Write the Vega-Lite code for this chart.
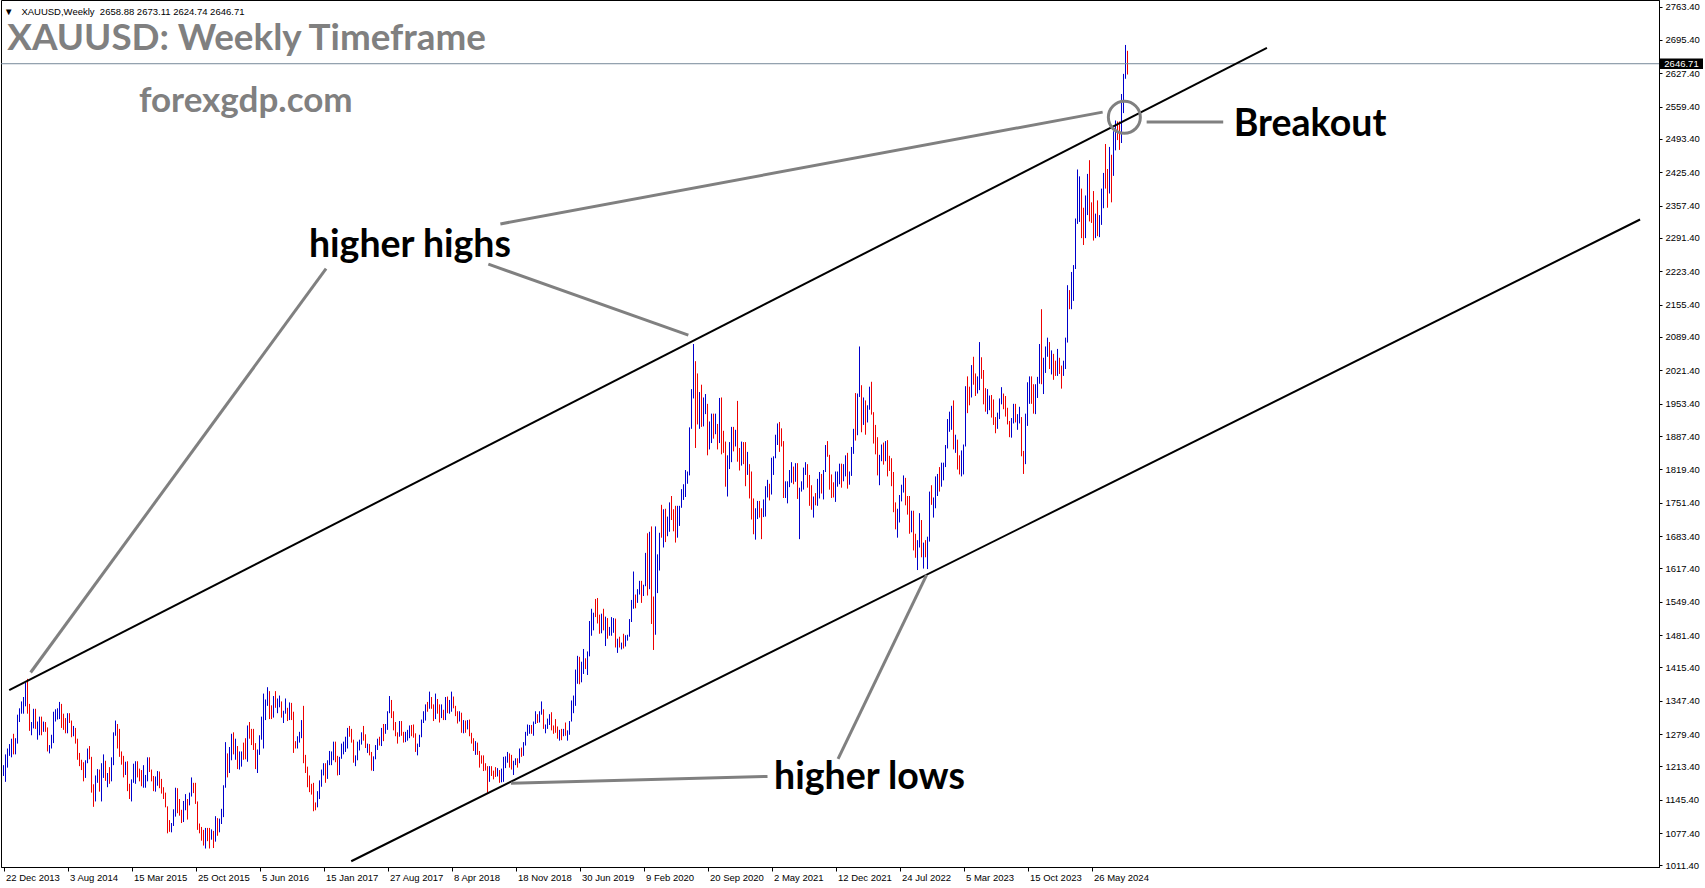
{
"$schema":"https://vega.github.io/schema/vega-lite/v6.json",
"width":1658,"height":867,"autosize":"none",
"padding":{"left":1,"top":0,"right":46,"bottom":21},
"background":"#ffffff",
"config":{"view":{"stroke":"#000000","strokeWidth":1},"axis":{"labelOverlap":false,"labelFlush":false,"labelBound":false,"grid":false,"title":null,"labelFont":"Liberation Sans","labelFontSize":9.5,"labelColor":"#000000","tickColor":"#000000","domainColor":"#000000"}},
"layer":[
{"data":{"values":[
{"d":"2013-12-22","o":1197,"h":1216,"l":1194,"c":1213},
{"d":"2013-12-29","o":1213,"h":1238,"l":1182,"c":1237},
{"d":"2014-01-05","o":1237,"h":1250,"l":1211,"c":1247},
{"d":"2014-01-12","o":1247,"h":1259,"l":1235,"c":1252},
{"d":"2014-01-19","o":1252,"h":1270,"l":1232,"c":1264},
{"d":"2014-01-26","o":1264,"h":1280,"l":1238,"c":1240},
{"d":"2014-02-02","o":1240,"h":1271,"l":1238,"c":1262},
{"d":"2014-02-09","o":1262,"h":1319,"l":1260,"c":1318},
{"d":"2014-02-16","o":1318,"h":1332,"l":1304,"c":1323},
{"d":"2014-02-23","o":1323,"h":1346,"l":1321,"c":1327},
{"d":"2014-03-02","o":1327,"h":1355,"l":1321,"c":1339},
{"d":"2014-03-09","o":1339,"h":1384,"l":1336,"c":1382},
{"d":"2014-03-16","o":1382,"h":1392,"l":1321,"c":1331},
{"d":"2014-03-23","o":1331,"h":1341,"l":1286,"c":1294},
{"d":"2014-03-30","o":1294,"h":1304,"l":1277,"c":1303},
{"d":"2014-04-06","o":1303,"h":1331,"l":1291,"c":1318},
{"d":"2014-04-13","o":1318,"h":1331,"l":1290,"c":1294},
{"d":"2014-04-20","o":1294,"h":1305,"l":1268,"c":1300},
{"d":"2014-04-27","o":1300,"h":1315,"l":1277,"c":1302},
{"d":"2014-05-04","o":1302,"h":1315,"l":1277,"c":1290},
{"d":"2014-05-11","o":1290,"h":1305,"l":1284,"c":1293},
{"d":"2014-05-18","o":1293,"h":1304,"l":1284,"c":1292},
{"d":"2014-05-25","o":1292,"h":1293,"l":1244,"c":1245},
{"d":"2014-06-01","o":1245,"h":1257,"l":1240,"c":1252},
{"d":"2014-06-08","o":1252,"h":1278,"l":1250,"c":1275},
{"d":"2014-06-15","o":1275,"h":1325,"l":1261,"c":1316},
{"d":"2014-06-22","o":1316,"h":1330,"l":1305,"c":1317},
{"d":"2014-06-29","o":1317,"h":1332,"l":1309,"c":1320},
{"d":"2014-07-06","o":1320,"h":1345,"l":1310,"c":1337},
{"d":"2014-07-13","o":1337,"h":1341,"l":1292,"c":1310},
{"d":"2014-07-20","o":1310,"h":1321,"l":1288,"c":1303},
{"d":"2014-07-27","o":1303,"h":1312,"l":1281,"c":1294},
{"d":"2014-08-03","o":1294,"h":1322,"l":1281,"c":1310},
{"d":"2014-08-10","o":1310,"h":1322,"l":1302,"c":1306},
{"d":"2014-08-17","o":1306,"h":1307,"l":1273,"c":1280},
{"d":"2014-08-24","o":1280,"h":1296,"l":1275,"c":1287},
{"d":"2014-08-31","o":1287,"h":1292,"l":1260,"c":1267},
{"d":"2014-09-07","o":1267,"h":1270,"l":1227,"c":1230},
{"d":"2014-09-14","o":1230,"h":1241,"l":1214,"c":1216},
{"d":"2014-09-21","o":1216,"h":1227,"l":1206,"c":1215},
{"d":"2014-09-28","o":1215,"h":1222,"l":1183,"c":1192},
{"d":"2014-10-05","o":1192,"h":1226,"l":1190,"c":1222},
{"d":"2014-10-12","o":1222,"h":1250,"l":1220,"c":1238},
{"d":"2014-10-19","o":1238,"h":1255,"l":1228,"c":1231},
{"d":"2014-10-26","o":1231,"h":1233,"l":1160,"c":1171},
{"d":"2014-11-02","o":1171,"h":1177,"l":1131,"c":1168},
{"d":"2014-11-09","o":1168,"h":1195,"l":1142,"c":1186},
{"d":"2014-11-16","o":1186,"h":1208,"l":1180,"c":1201},
{"d":"2014-11-23","o":1201,"h":1207,"l":1162,"c":1175},
{"d":"2014-11-30","o":1175,"h":1220,"l":1142,"c":1191},
{"d":"2014-12-07","o":1191,"h":1238,"l":1190,"c":1222},
{"d":"2014-12-14","o":1222,"h":1225,"l":1184,"c":1195},
{"d":"2014-12-21","o":1195,"h":1200,"l":1171,"c":1196},
{"d":"2014-12-28","o":1196,"h":1212,"l":1178,"c":1188},
{"d":"2015-01-04","o":1188,"h":1232,"l":1183,"c":1216},
{"d":"2015-01-11","o":1216,"h":1283,"l":1216,"c":1277},
{"d":"2015-01-18","o":1277,"h":1307,"l":1276,"c":1293},
{"d":"2015-01-25","o":1293,"h":1300,"l":1250,"c":1279},
{"d":"2015-02-01","o":1279,"h":1290,"l":1233,"c":1234},
{"d":"2015-02-08","o":1234,"h":1244,"l":1217,"c":1228},
{"d":"2015-02-15","o":1228,"h":1235,"l":1191,"c":1204},
{"d":"2015-02-22","o":1204,"h":1223,"l":1196,"c":1213},
{"d":"2015-03-01","o":1213,"h":1224,"l":1163,"c":1167},
{"d":"2015-03-08","o":1167,"h":1178,"l":1147,"c":1152},
{"d":"2015-03-15","o":1152,"h":1187,"l":1142,"c":1184},
{"d":"2015-03-22","o":1184,"h":1219,"l":1180,"c":1199},
{"d":"2015-03-29","o":1199,"h":1224,"l":1178,"c":1219},
{"d":"2015-04-05","o":1219,"h":1224,"l":1191,"c":1205},
{"d":"2015-04-12","o":1205,"h":1209,"l":1183,"c":1204},
{"d":"2015-04-19","o":1204,"h":1206,"l":1173,"c":1178},
{"d":"2015-04-26","o":1178,"h":1216,"l":1170,"c":1179},
{"d":"2015-05-03","o":1179,"h":1196,"l":1170,"c":1189},
{"d":"2015-05-10","o":1189,"h":1232,"l":1183,"c":1225},
{"d":"2015-05-17","o":1225,"h":1232,"l":1202,"c":1205},
{"d":"2015-05-24","o":1205,"h":1207,"l":1183,"c":1189},
{"d":"2015-05-31","o":1189,"h":1194,"l":1163,"c":1168},
{"d":"2015-06-07","o":1168,"h":1193,"l":1162,"c":1180},
{"d":"2015-06-14","o":1180,"h":1204,"l":1174,"c":1201},
{"d":"2015-06-21","o":1201,"h":1203,"l":1169,"c":1173},
{"d":"2015-06-28","o":1173,"h":1188,"l":1158,"c":1168},
{"d":"2015-07-05","o":1168,"h":1171,"l":1147,"c":1157},
{"d":"2015-07-12","o":1157,"h":1160,"l":1130,"c":1131},
{"d":"2015-07-19","o":1131,"h":1132,"l":1077,"c":1098},
{"d":"2015-07-26","o":1098,"h":1104,"l":1080,"c":1094},
{"d":"2015-08-02","o":1094,"h":1098,"l":1079,"c":1095},
{"d":"2015-08-09","o":1095,"h":1126,"l":1092,"c":1113},
{"d":"2015-08-16","o":1113,"h":1170,"l":1111,"c":1160},
{"d":"2015-08-23","o":1160,"h":1169,"l":1118,"c":1134},
{"d":"2015-08-30","o":1134,"h":1147,"l":1113,"c":1121},
{"d":"2015-09-06","o":1121,"h":1125,"l":1098,"c":1103},
{"d":"2015-09-13","o":1103,"h":1143,"l":1100,"c":1137},
{"d":"2015-09-20","o":1137,"h":1157,"l":1124,"c":1145},
{"d":"2015-09-27","o":1145,"h":1147,"l":1105,"c":1137},
{"d":"2015-10-04","o":1137,"h":1160,"l":1134,"c":1156},
{"d":"2015-10-11","o":1156,"h":1191,"l":1152,"c":1177},
{"d":"2015-10-18","o":1177,"h":1180,"l":1159,"c":1163},
{"d":"2015-10-25","o":1163,"h":1180,"l":1137,"c":1141},
{"d":"2015-11-01","o":1141,"h":1142,"l":1084,"c":1088},
{"d":"2015-11-08","o":1088,"h":1097,"l":1077,"c":1081},
{"d":"2015-11-15","o":1081,"h":1090,"l":1062,"c":1076},
{"d":"2015-11-22","o":1076,"h":1084,"l":1052,"c":1057},
{"d":"2015-11-29","o":1057,"h":1088,"l":1046,"c":1085},
{"d":"2015-12-06","o":1085,"h":1088,"l":1061,"c":1075},
{"d":"2015-12-13","o":1075,"h":1088,"l":1046,"c":1066},
{"d":"2015-12-20","o":1066,"h":1085,"l":1064,"c":1076},
{"d":"2015-12-27","o":1076,"h":1082,"l":1047,"c":1061},
{"d":"2016-01-03","o":1061,"h":1112,"l":1060,"c":1098},
{"d":"2016-01-10","o":1098,"h":1108,"l":1072,"c":1089},
{"d":"2016-01-17","o":1089,"h":1107,"l":1079,"c":1097},
{"d":"2016-01-24","o":1097,"h":1127,"l":1096,"c":1117},
{"d":"2016-01-31","o":1117,"h":1175,"l":1110,"c":1173},
{"d":"2016-02-07","o":1173,"h":1263,"l":1170,"c":1239},
{"d":"2016-02-14","o":1239,"h":1240,"l":1191,"c":1227},
{"d":"2016-02-21","o":1227,"h":1253,"l":1200,"c":1234},
{"d":"2016-02-28","o":1234,"h":1280,"l":1226,"c":1270},
{"d":"2016-03-06","o":1270,"h":1283,"l":1238,"c":1250},
{"d":"2016-03-13","o":1250,"h":1270,"l":1227,"c":1253},
{"d":"2016-03-20","o":1253,"h":1255,"l":1208,"c":1216},
{"d":"2016-03-27","o":1216,"h":1244,"l":1207,"c":1221},
{"d":"2016-04-03","o":1221,"h":1244,"l":1213,"c":1241},
{"d":"2016-04-10","o":1241,"h":1262,"l":1227,"c":1234},
{"d":"2016-04-17","o":1234,"h":1271,"l":1228,"c":1230},
{"d":"2016-04-24","o":1230,"h":1297,"l":1223,"c":1291},
{"d":"2016-05-01","o":1291,"h":1304,"l":1270,"c":1290},
{"d":"2016-05-08","o":1290,"h":1290,"l":1257,"c":1273},
{"d":"2016-05-15","o":1273,"h":1290,"l":1247,"c":1253},
{"d":"2016-05-22","o":1253,"h":1261,"l":1208,"c":1213},
{"d":"2016-05-29","o":1213,"h":1248,"l":1200,"c":1243},
{"d":"2016-06-05","o":1243,"h":1277,"l":1237,"c":1274},
{"d":"2016-06-12","o":1274,"h":1315,"l":1268,"c":1298},
{"d":"2016-06-19","o":1298,"h":1362,"l":1250,"c":1322},
{"d":"2016-06-26","o":1322,"h":1350,"l":1308,"c":1340},
{"d":"2016-07-03","o":1340,"h":1375,"l":1337,"c":1366},
{"d":"2016-07-10","o":1366,"h":1367,"l":1310,"c":1327},
{"d":"2016-07-17","o":1327,"h":1338,"l":1310,"c":1322},
{"d":"2016-07-24","o":1322,"h":1357,"l":1313,"c":1350},
{"d":"2016-07-31","o":1350,"h":1367,"l":1333,"c":1335},
{"d":"2016-08-07","o":1335,"h":1352,"l":1322,"c":1336},
{"d":"2016-08-14","o":1336,"h":1358,"l":1334,"c":1341},
{"d":"2016-08-21","o":1341,"h":1346,"l":1313,"c":1321},
{"d":"2016-08-28","o":1321,"h":1327,"l":1302,"c":1326},
{"d":"2016-09-04","o":1326,"h":1352,"l":1321,"c":1327},
{"d":"2016-09-11","o":1327,"h":1333,"l":1306,"c":1310},
{"d":"2016-09-18","o":1310,"h":1344,"l":1308,"c":1338},
{"d":"2016-09-25","o":1338,"h":1343,"l":1308,"c":1316},
{"d":"2016-10-02","o":1316,"h":1325,"l":1241,"c":1257},
{"d":"2016-10-09","o":1257,"h":1265,"l":1250,"c":1252},
{"d":"2016-10-16","o":1252,"h":1275,"l":1250,"c":1266},
{"d":"2016-10-23","o":1266,"h":1284,"l":1262,"c":1276},
{"d":"2016-10-30","o":1276,"h":1308,"l":1271,"c":1304},
{"d":"2016-11-06","o":1304,"h":1337,"l":1220,"c":1225},
{"d":"2016-11-13","o":1225,"h":1237,"l":1200,"c":1208},
{"d":"2016-11-20","o":1208,"h":1213,"l":1171,"c":1183},
{"d":"2016-11-27","o":1183,"h":1195,"l":1161,"c":1178},
{"d":"2016-12-04","o":1178,"h":1178,"l":1156,"c":1160},
{"d":"2016-12-11","o":1160,"h":1180,"l":1122,"c":1133},
{"d":"2016-12-18","o":1133,"h":1140,"l":1124,"c":1132},
{"d":"2016-12-25","o":1132,"h":1163,"l":1130,"c":1151},
{"d":"2017-01-01","o":1151,"h":1185,"l":1147,"c":1173},
{"d":"2017-01-08","o":1173,"h":1207,"l":1172,"c":1197},
{"d":"2017-01-15","o":1197,"h":1220,"l":1195,"c":1210},
{"d":"2017-01-22","o":1210,"h":1220,"l":1180,"c":1190},
{"d":"2017-01-29","o":1190,"h":1226,"l":1188,"c":1221},
{"d":"2017-02-05","o":1221,"h":1245,"l":1216,"c":1234},
{"d":"2017-02-12","o":1234,"h":1244,"l":1216,"c":1236},
{"d":"2017-02-19","o":1236,"h":1264,"l":1226,"c":1257},
{"d":"2017-02-26","o":1257,"h":1264,"l":1222,"c":1226},
{"d":"2017-03-05","o":1226,"h":1235,"l":1195,"c":1202},
{"d":"2017-03-12","o":1202,"h":1233,"l":1196,"c":1229},
{"d":"2017-03-19","o":1229,"h":1260,"l":1229,"c":1243},
{"d":"2017-03-26","o":1243,"h":1264,"l":1238,"c":1249},
{"d":"2017-04-02","o":1249,"h":1274,"l":1243,"c":1254},
{"d":"2017-04-09","o":1254,"h":1292,"l":1250,"c":1288},
{"d":"2017-04-16","o":1288,"h":1296,"l":1274,"c":1284},
{"d":"2017-04-23","o":1284,"h":1290,"l":1262,"c":1268},
{"d":"2017-04-30","o":1268,"h":1268,"l":1221,"c":1228},
{"d":"2017-05-07","o":1228,"h":1236,"l":1214,"c":1229},
{"d":"2017-05-14","o":1229,"h":1264,"l":1226,"c":1254},
{"d":"2017-05-21","o":1254,"h":1268,"l":1246,"c":1267},
{"d":"2017-05-28","o":1267,"h":1283,"l":1258,"c":1280},
{"d":"2017-06-04","o":1280,"h":1296,"l":1266,"c":1267},
{"d":"2017-06-11","o":1267,"h":1279,"l":1251,"c":1254},
{"d":"2017-06-18","o":1254,"h":1260,"l":1241,"c":1256},
{"d":"2017-06-25","o":1256,"h":1259,"l":1236,"c":1242},
{"d":"2017-07-02","o":1242,"h":1243,"l":1205,"c":1212},
{"d":"2017-07-09","o":1212,"h":1234,"l":1204,"c":1228},
{"d":"2017-07-16","o":1228,"h":1257,"l":1228,"c":1254},
{"d":"2017-07-23","o":1254,"h":1270,"l":1247,"c":1268},
{"d":"2017-07-30","o":1268,"h":1274,"l":1256,"c":1258},
{"d":"2017-08-06","o":1258,"h":1292,"l":1255,"c":1289},
{"d":"2017-08-13","o":1289,"h":1300,"l":1265,"c":1285},
{"d":"2017-08-20","o":1285,"h":1300,"l":1280,"c":1291},
{"d":"2017-08-27","o":1291,"h":1326,"l":1288,"c":1324},
{"d":"2017-09-03","o":1324,"h":1357,"l":1322,"c":1346},
{"d":"2017-09-10","o":1346,"h":1349,"l":1312,"c":1320},
{"d":"2017-09-17","o":1320,"h":1326,"l":1287,"c":1297},
{"d":"2017-09-24","o":1297,"h":1304,"l":1275,"c":1280},
{"d":"2017-10-01","o":1280,"h":1283,"l":1260,"c":1275},
{"d":"2017-10-08","o":1275,"h":1306,"l":1274,"c":1304},
{"d":"2017-10-15","o":1304,"h":1306,"l":1276,"c":1280},
{"d":"2017-10-22","o":1280,"h":1284,"l":1262,"c":1266},
{"d":"2017-10-29","o":1266,"h":1284,"l":1263,"c":1270},
{"d":"2017-11-05","o":1270,"h":1288,"l":1266,"c":1275},
{"d":"2017-11-12","o":1275,"h":1297,"l":1271,"c":1294},
{"d":"2017-11-19","o":1294,"h":1298,"l":1275,"c":1288},
{"d":"2017-11-26","o":1288,"h":1299,"l":1272,"c":1279},
{"d":"2017-12-03","o":1279,"h":1281,"l":1243,"c":1248},
{"d":"2017-12-10","o":1248,"h":1260,"l":1236,"c":1257},
{"d":"2017-12-17","o":1257,"h":1278,"l":1253,"c":1278},
{"d":"2017-12-24","o":1278,"h":1309,"l":1273,"c":1303},
{"d":"2017-12-31","o":1303,"h":1326,"l":1302,"c":1320},
{"d":"2018-01-07","o":1320,"h":1340,"l":1307,"c":1338},
{"d":"2018-01-14","o":1338,"h":1345,"l":1325,"c":1333},
{"d":"2018-01-21","o":1333,"h":1366,"l":1331,"c":1348},
{"d":"2018-01-28","o":1348,"h":1355,"l":1331,"c":1333},
{"d":"2018-02-04","o":1333,"h":1340,"l":1306,"c":1316},
{"d":"2018-02-11","o":1316,"h":1362,"l":1310,"c":1347},
{"d":"2018-02-18","o":1347,"h":1351,"l":1321,"c":1330},
{"d":"2018-02-25","o":1330,"h":1340,"l":1303,"c":1323},
{"d":"2018-03-04","o":1323,"h":1340,"l":1312,"c":1324},
{"d":"2018-03-11","o":1324,"h":1329,"l":1308,"c":1313},
{"d":"2018-03-18","o":1313,"h":1355,"l":1308,"c":1349},
{"d":"2018-03-25","o":1349,"h":1356,"l":1322,"c":1325},
{"d":"2018-04-01","o":1325,"h":1349,"l":1321,"c":1332},
{"d":"2018-04-08","o":1332,"h":1366,"l":1325,"c":1345},
{"d":"2018-04-15","o":1345,"h":1356,"l":1332,"c":1336},
{"d":"2018-04-22","o":1336,"h":1337,"l":1316,"c":1323},
{"d":"2018-04-29","o":1323,"h":1326,"l":1301,"c":1315},
{"d":"2018-05-06","o":1315,"h":1326,"l":1305,"c":1320},
{"d":"2018-05-13","o":1320,"h":1323,"l":1282,"c":1291},
{"d":"2018-05-20","o":1291,"h":1308,"l":1281,"c":1301},
{"d":"2018-05-27","o":1301,"h":1307,"l":1282,"c":1294},
{"d":"2018-06-03","o":1294,"h":1308,"l":1289,"c":1298},
{"d":"2018-06-10","o":1298,"h":1309,"l":1275,"c":1278},
{"d":"2018-06-17","o":1278,"h":1282,"l":1260,"c":1269},
{"d":"2018-06-24","o":1269,"h":1271,"l":1245,"c":1253},
{"d":"2018-07-01","o":1253,"h":1265,"l":1237,"c":1256},
{"d":"2018-07-08","o":1256,"h":1262,"l":1237,"c":1241},
{"d":"2018-07-15","o":1241,"h":1245,"l":1211,"c":1231},
{"d":"2018-07-22","o":1231,"h":1236,"l":1219,"c":1223},
{"d":"2018-07-29","o":1223,"h":1236,"l":1204,"c":1214},
{"d":"2018-08-05","o":1214,"h":1220,"l":1205,"c":1212},
{"d":"2018-08-12","o":1212,"h":1214,"l":1160,"c":1184},
{"d":"2018-08-19","o":1184,"h":1214,"l":1182,"c":1206},
{"d":"2018-08-26","o":1206,"h":1214,"l":1194,"c":1199},
{"d":"2018-09-02","o":1199,"h":1205,"l":1187,"c":1196},
{"d":"2018-09-09","o":1196,"h":1212,"l":1192,"c":1194},
{"d":"2018-09-16","o":1194,"h":1210,"l":1193,"c":1198},
{"d":"2018-09-23","o":1198,"h":1206,"l":1180,"c":1192},
{"d":"2018-09-30","o":1192,"h":1209,"l":1181,"c":1203},
{"d":"2018-10-07","o":1203,"h":1233,"l":1182,"c":1218},
{"d":"2018-10-14","o":1218,"h":1234,"l":1210,"c":1227},
{"d":"2018-10-21","o":1227,"h":1243,"l":1221,"c":1233},
{"d":"2018-10-28","o":1233,"h":1240,"l":1211,"c":1232},
{"d":"2018-11-04","o":1232,"h":1237,"l":1207,"c":1209},
{"d":"2018-11-11","o":1209,"h":1225,"l":1196,"c":1222},
{"d":"2018-11-18","o":1222,"h":1230,"l":1216,"c":1223},
{"d":"2018-11-25","o":1223,"h":1230,"l":1211,"c":1221},
{"d":"2018-12-02","o":1221,"h":1250,"l":1220,"c":1248},
{"d":"2018-12-09","o":1248,"h":1252,"l":1233,"c":1238},
{"d":"2018-12-16","o":1238,"h":1263,"l":1235,"c":1257},
{"d":"2018-12-23","o":1257,"h":1284,"l":1256,"c":1280},
{"d":"2018-12-30","o":1280,"h":1299,"l":1276,"c":1286},
{"d":"2019-01-06","o":1286,"h":1298,"l":1280,"c":1288},
{"d":"2019-01-13","o":1288,"h":1298,"l":1280,"c":1282},
{"d":"2019-01-20","o":1282,"h":1305,"l":1276,"c":1304},
{"d":"2019-01-27","o":1304,"h":1326,"l":1300,"c":1318},
{"d":"2019-02-03","o":1318,"h":1320,"l":1302,"c":1314},
{"d":"2019-02-10","o":1314,"h":1326,"l":1303,"c":1322},
{"d":"2019-02-17","o":1322,"h":1346,"l":1319,"c":1328},
{"d":"2019-02-24","o":1328,"h":1330,"l":1290,"c":1294},
{"d":"2019-03-03","o":1294,"h":1299,"l":1281,"c":1298},
{"d":"2019-03-10","o":1298,"h":1311,"l":1290,"c":1302},
{"d":"2019-03-17","o":1302,"h":1320,"l":1298,"c":1313},
{"d":"2019-03-24","o":1313,"h":1324,"l":1287,"c":1292},
{"d":"2019-03-31","o":1292,"h":1297,"l":1280,"c":1291},
{"d":"2019-04-07","o":1291,"h":1310,"l":1282,"c":1290},
{"d":"2019-04-14","o":1290,"h":1295,"l":1270,"c":1275},
{"d":"2019-04-21","o":1275,"h":1288,"l":1266,"c":1286},
{"d":"2019-04-28","o":1286,"h":1290,"l":1267,"c":1280},
{"d":"2019-05-05","o":1280,"h":1290,"l":1275,"c":1285},
{"d":"2019-05-12","o":1285,"h":1303,"l":1276,"c":1277},
{"d":"2019-05-19","o":1277,"h":1287,"l":1266,"c":1284},
{"d":"2019-05-26","o":1284,"h":1306,"l":1278,"c":1305},
{"d":"2019-06-02","o":1305,"h":1348,"l":1305,"c":1341},
{"d":"2019-06-09","o":1341,"h":1358,"l":1322,"c":1342},
{"d":"2019-06-16","o":1342,"h":1411,"l":1337,"c":1400},
{"d":"2019-06-23","o":1400,"h":1439,"l":1382,"c":1409},
{"d":"2019-06-30","o":1409,"h":1437,"l":1381,"c":1400},
{"d":"2019-07-07","o":1400,"h":1427,"l":1385,"c":1415},
{"d":"2019-07-14","o":1415,"h":1453,"l":1402,"c":1426},
{"d":"2019-07-21","o":1426,"h":1434,"l":1412,"c":1419},
{"d":"2019-07-28","o":1419,"h":1448,"l":1400,"c":1440},
{"d":"2019-08-04","o":1440,"h":1510,"l":1438,"c":1497},
{"d":"2019-08-11","o":1497,"h":1535,"l":1480,"c":1513},
{"d":"2019-08-18","o":1513,"h":1527,"l":1491,"c":1526},
{"d":"2019-08-25","o":1526,"h":1555,"l":1518,"c":1520},
{"d":"2019-09-01","o":1520,"h":1557,"l":1505,"c":1506},
{"d":"2019-09-08","o":1506,"h":1523,"l":1484,"c":1488},
{"d":"2019-09-15","o":1488,"h":1525,"l":1485,"c":1517},
{"d":"2019-09-22","o":1517,"h":1535,"l":1491,"c":1497},
{"d":"2019-09-29","o":1497,"h":1519,"l":1459,"c":1505},
{"d":"2019-10-06","o":1505,"h":1516,"l":1474,"c":1489},
{"d":"2019-10-13","o":1489,"h":1498,"l":1480,"c":1490},
{"d":"2019-10-20","o":1490,"h":1518,"l":1480,"c":1505},
{"d":"2019-10-27","o":1505,"h":1516,"l":1486,"c":1514},
{"d":"2019-11-03","o":1514,"h":1515,"l":1456,"c":1459},
{"d":"2019-11-10","o":1459,"h":1474,"l":1445,"c":1468},
{"d":"2019-11-17","o":1468,"h":1478,"l":1456,"c":1462},
{"d":"2019-11-24","o":1462,"h":1466,"l":1452,"c":1464},
{"d":"2019-12-01","o":1464,"h":1484,"l":1454,"c":1460},
{"d":"2019-12-08","o":1460,"h":1481,"l":1458,"c":1476},
{"d":"2019-12-15","o":1476,"h":1482,"l":1470,"c":1478},
{"d":"2019-12-22","o":1478,"h":1514,"l":1478,"c":1511},
{"d":"2019-12-29","o":1511,"h":1553,"l":1508,"c":1552},
{"d":"2020-01-05","o":1552,"h":1611,"l":1535,"c":1562},
{"d":"2020-01-12","o":1562,"h":1564,"l":1536,"c":1557},
{"d":"2020-01-19","o":1557,"h":1575,"l":1547,"c":1571},
{"d":"2020-01-26","o":1571,"h":1592,"l":1564,"c":1589},
{"d":"2020-02-02","o":1589,"h":1592,"l":1547,"c":1570},
{"d":"2020-02-09","o":1570,"h":1584,"l":1561,"c":1584},
{"d":"2020-02-16","o":1584,"h":1649,"l":1581,"c":1643},
{"d":"2020-02-23","o":1643,"h":1689,"l":1562,"c":1585},
{"d":"2020-03-01","o":1585,"h":1692,"l":1575,"c":1673},
{"d":"2020-03-08","o":1673,"h":1703,"l":1504,"c":1530},
{"d":"2020-03-15","o":1530,"h":1560,"l":1451,"c":1499},
{"d":"2020-03-22","o":1499,"h":1703,"l":1482,"c":1617},
{"d":"2020-03-29","o":1617,"h":1646,"l":1567,"c":1620},
{"d":"2020-04-05","o":1620,"h":1690,"l":1613,"c":1683},
{"d":"2020-04-12","o":1683,"h":1747,"l":1680,"c":1682},
{"d":"2020-04-19","o":1682,"h":1738,"l":1660,"c":1729},
{"d":"2020-04-26","o":1729,"h":1739,"l":1671,"c":1700},
{"d":"2020-05-03","o":1700,"h":1723,"l":1683,"c":1703},
{"d":"2020-05-10","o":1703,"h":1752,"l":1692,"c":1743},
{"d":"2020-05-17","o":1743,"h":1765,"l":1716,"c":1735},
{"d":"2020-05-24","o":1735,"h":1738,"l":1693,"c":1730},
{"d":"2020-05-31","o":1730,"h":1745,"l":1670,"c":1684},
{"d":"2020-06-07","o":1684,"h":1745,"l":1680,"c":1730},
{"d":"2020-06-14","o":1730,"h":1745,"l":1704,"c":1743},
{"d":"2020-06-21","o":1743,"h":1779,"l":1741,"c":1771},
{"d":"2020-06-28","o":1771,"h":1789,"l":1757,"c":1775},
{"d":"2020-07-05","o":1775,"h":1818,"l":1763,"c":1798},
{"d":"2020-07-12","o":1798,"h":1815,"l":1790,"c":1810},
{"d":"2020-07-19","o":1810,"h":1905,"l":1807,"c":1902},
{"d":"2020-07-26","o":1902,"h":1983,"l":1902,"c":1975},
{"d":"2020-08-02","o":1975,"h":2075,"l":1964,"c":2035},
{"d":"2020-08-09","o":2035,"h":2040,"l":1863,"c":1944},
{"d":"2020-08-16","o":1944,"h":2015,"l":1911,"c":1940},
{"d":"2020-08-23","o":1940,"h":1977,"l":1902,"c":1964},
{"d":"2020-08-30","o":1964,"h":1992,"l":1906,"c":1934},
{"d":"2020-09-06","o":1934,"h":1966,"l":1907,"c":1940},
{"d":"2020-09-13","o":1940,"h":1973,"l":1932,"c":1950},
{"d":"2020-09-20","o":1950,"h":1953,"l":1848,"c":1861},
{"d":"2020-09-27","o":1861,"h":1917,"l":1860,"c":1899},
{"d":"2020-10-04","o":1899,"h":1933,"l":1873,"c":1930},
{"d":"2020-10-11","o":1930,"h":1933,"l":1882,"c":1899},
{"d":"2020-10-18","o":1899,"h":1933,"l":1891,"c":1902},
{"d":"2020-10-25","o":1902,"h":1912,"l":1860,"c":1879},
{"d":"2020-11-01","o":1879,"h":1965,"l":1873,"c":1951},
{"d":"2020-11-08","o":1951,"h":1966,"l":1850,"c":1888},
{"d":"2020-11-15","o":1888,"h":1898,"l":1853,"c":1871},
{"d":"2020-11-22","o":1871,"h":1876,"l":1784,"c":1788},
{"d":"2020-11-29","o":1788,"h":1848,"l":1764,"c":1838},
{"d":"2020-12-06","o":1838,"h":1875,"l":1820,"c":1839},
{"d":"2020-12-13","o":1839,"h":1906,"l":1834,"c":1881},
{"d":"2020-12-20","o":1881,"h":1906,"l":1856,"c":1877},
{"d":"2020-12-27","o":1877,"h":1900,"l":1866,"c":1895},
{"d":"2021-01-03","o":1895,"h":1959,"l":1835,"c":1850},
{"d":"2021-01-10","o":1850,"h":1863,"l":1817,"c":1828},
{"d":"2021-01-17","o":1828,"h":1876,"l":1827,"c":1855},
{"d":"2021-01-24","o":1855,"h":1875,"l":1830,"c":1848},
{"d":"2021-01-31","o":1848,"h":1875,"l":1785,"c":1813},
{"d":"2021-02-07","o":1813,"h":1855,"l":1808,"c":1824},
{"d":"2021-02-14","o":1824,"h":1830,"l":1760,"c":1784},
{"d":"2021-02-21","o":1784,"h":1815,"l":1717,"c":1734},
{"d":"2021-02-28","o":1734,"h":1760,"l":1687,"c":1700},
{"d":"2021-03-07","o":1700,"h":1740,"l":1676,"c":1727},
{"d":"2021-03-14","o":1727,"h":1755,"l":1718,"c":1745},
{"d":"2021-03-21","o":1745,"h":1755,"l":1721,"c":1733},
{"d":"2021-03-28","o":1733,"h":1740,"l":1677,"c":1728},
{"d":"2021-04-04","o":1728,"h":1758,"l":1722,"c":1744},
{"d":"2021-04-11","o":1744,"h":1785,"l":1723,"c":1777},
{"d":"2021-04-18","o":1777,"h":1798,"l":1762,"c":1778},
{"d":"2021-04-25","o":1778,"h":1790,"l":1756,"c":1768},
{"d":"2021-05-02","o":1768,"h":1843,"l":1768,"c":1831},
{"d":"2021-05-09","o":1831,"h":1846,"l":1808,"c":1843},
{"d":"2021-05-16","o":1843,"h":1890,"l":1842,"c":1881},
{"d":"2021-05-23","o":1881,"h":1913,"l":1869,"c":1905},
{"d":"2021-05-30","o":1905,"h":1916,"l":1855,"c":1891},
{"d":"2021-06-06","o":1891,"h":1903,"l":1866,"c":1877},
{"d":"2021-06-13","o":1877,"h":1877,"l":1761,"c":1764},
{"d":"2021-06-20","o":1764,"h":1795,"l":1761,"c":1781},
{"d":"2021-06-27","o":1781,"h":1795,"l":1750,"c":1784},
{"d":"2021-07-04","o":1784,"h":1818,"l":1783,"c":1808},
{"d":"2021-07-11","o":1808,"h":1834,"l":1792,"c":1812},
{"d":"2021-07-18","o":1812,"h":1825,"l":1789,"c":1802},
{"d":"2021-07-25","o":1802,"h":1832,"l":1794,"c":1814},
{"d":"2021-08-01","o":1814,"h":1832,"l":1759,"c":1763},
{"d":"2021-08-08","o":1763,"h":1782,"l":1677,"c":1780},
{"d":"2021-08-15","o":1780,"h":1795,"l":1774,"c":1781},
{"d":"2021-08-22","o":1781,"h":1823,"l":1778,"c":1819},
{"d":"2021-08-29","o":1819,"h":1834,"l":1808,"c":1827},
{"d":"2021-09-05","o":1827,"h":1830,"l":1782,"c":1788},
{"d":"2021-09-12","o":1788,"h":1808,"l":1745,"c":1754},
{"d":"2021-09-19","o":1754,"h":1787,"l":1737,"c":1750},
{"d":"2021-09-26","o":1750,"h":1764,"l":1721,"c":1761},
{"d":"2021-10-03","o":1761,"h":1771,"l":1746,"c":1757},
{"d":"2021-10-10","o":1757,"h":1800,"l":1745,"c":1768},
{"d":"2021-10-17","o":1768,"h":1814,"l":1760,"c":1793},
{"d":"2021-10-24","o":1793,"h":1810,"l":1770,"c":1783},
{"d":"2021-10-31","o":1783,"h":1818,"l":1758,"c":1818},
{"d":"2021-11-07","o":1818,"h":1869,"l":1814,"c":1865},
{"d":"2021-11-14","o":1865,"h":1877,"l":1845,"c":1846},
{"d":"2021-11-21","o":1846,"h":1849,"l":1778,"c":1792},
{"d":"2021-11-28","o":1792,"h":1809,"l":1761,"c":1783},
{"d":"2021-12-05","o":1783,"h":1793,"l":1762,"c":1782},
{"d":"2021-12-12","o":1782,"h":1815,"l":1753,"c":1798},
{"d":"2021-12-19","o":1798,"h":1815,"l":1784,"c":1811},
{"d":"2021-12-26","o":1811,"h":1831,"l":1789,"c":1829},
{"d":"2022-01-02","o":1829,"h":1831,"l":1782,"c":1797},
{"d":"2022-01-09","o":1797,"h":1830,"l":1795,"c":1817},
{"d":"2022-01-16","o":1817,"h":1848,"l":1805,"c":1835},
{"d":"2022-01-23","o":1835,"h":1853,"l":1780,"c":1791},
{"d":"2022-01-30","o":1791,"h":1815,"l":1788,"c":1807},
{"d":"2022-02-06","o":1807,"h":1865,"l":1806,"c":1859},
{"d":"2022-02-13","o":1859,"h":1902,"l":1851,"c":1898},
{"d":"2022-02-20","o":1898,"h":1975,"l":1878,"c":1889},
{"d":"2022-02-27","o":1889,"h":1974,"l":1889,"c":1970},
{"d":"2022-03-06","o":1970,"h":2070,"l":1967,"c":1989},
{"d":"2022-03-13","o":1989,"h":1991,"l":1895,"c":1921},
{"d":"2022-03-20","o":1921,"h":1966,"l":1910,"c":1958},
{"d":"2022-03-27","o":1958,"h":1960,"l":1890,"c":1925},
{"d":"2022-04-03","o":1925,"h":1950,"l":1915,"c":1946},
{"d":"2022-04-10","o":1946,"h":1988,"l":1941,"c":1975},
{"d":"2022-04-17","o":1975,"h":1998,"l":1931,"c":1934},
{"d":"2022-04-24","o":1934,"h":1936,"l":1872,"c":1896},
{"d":"2022-05-01","o":1896,"h":1910,"l":1850,"c":1883},
{"d":"2022-05-08","o":1883,"h":1885,"l":1807,"c":1811},
{"d":"2022-05-15","o":1811,"h":1849,"l":1787,"c":1846},
{"d":"2022-05-22","o":1846,"h":1870,"l":1836,"c":1853},
{"d":"2022-05-29","o":1853,"h":1874,"l":1829,"c":1850},
{"d":"2022-06-05","o":1850,"h":1877,"l":1836,"c":1871},
{"d":"2022-06-12","o":1871,"h":1879,"l":1805,"c":1840},
{"d":"2022-06-19","o":1840,"h":1847,"l":1816,"c":1827},
{"d":"2022-06-26","o":1827,"h":1842,"l":1785,"c":1811},
{"d":"2022-07-03","o":1811,"h":1814,"l":1732,"c":1742},
{"d":"2022-07-10","o":1742,"h":1752,"l":1697,"c":1703},
{"d":"2022-07-17","o":1703,"h":1739,"l":1680,"c":1727},
{"d":"2022-07-24","o":1727,"h":1767,"l":1711,"c":1766},
{"d":"2022-07-31","o":1766,"h":1788,"l":1754,"c":1775},
{"d":"2022-08-07","o":1775,"h":1807,"l":1772,"c":1802},
{"d":"2022-08-14","o":1802,"h":1802,"l":1746,"c":1747},
{"d":"2022-08-21","o":1747,"h":1765,"l":1727,"c":1737},
{"d":"2022-08-28","o":1737,"h":1765,"l":1688,"c":1712},
{"d":"2022-09-04","o":1712,"h":1735,"l":1691,"c":1717},
{"d":"2022-09-11","o":1717,"h":1735,"l":1654,"c":1675},
{"d":"2022-09-18","o":1675,"h":1688,"l":1639,"c":1643},
{"d":"2022-09-25","o":1643,"h":1675,"l":1614,"c":1661},
{"d":"2022-10-02","o":1661,"h":1730,"l":1660,"c":1695},
{"d":"2022-10-09","o":1695,"h":1716,"l":1640,"c":1644},
{"d":"2022-10-16","o":1644,"h":1670,"l":1617,"c":1656},
{"d":"2022-10-23","o":1656,"h":1675,"l":1640,"c":1645},
{"d":"2022-10-30","o":1645,"h":1682,"l":1616,"c":1681},
{"d":"2022-11-06","o":1681,"h":1774,"l":1672,"c":1771},
{"d":"2022-11-13","o":1771,"h":1787,"l":1747,"c":1751},
{"d":"2022-11-20","o":1751,"h":1762,"l":1721,"c":1755},
{"d":"2022-11-27","o":1755,"h":1805,"l":1740,"c":1797},
{"d":"2022-12-04","o":1797,"h":1810,"l":1765,"c":1798},
{"d":"2022-12-11","o":1798,"h":1824,"l":1774,"c":1793},
{"d":"2022-12-18","o":1793,"h":1833,"l":1784,"c":1798},
{"d":"2022-12-25","o":1798,"h":1833,"l":1797,"c":1824},
{"d":"2023-01-01","o":1824,"h":1869,"l":1824,"c":1866},
{"d":"2023-01-08","o":1866,"h":1922,"l":1862,"c":1920},
{"d":"2023-01-15","o":1920,"h":1937,"l":1896,"c":1926},
{"d":"2023-01-22","o":1926,"h":1949,"l":1900,"c":1928},
{"d":"2023-01-29","o":1928,"h":1960,"l":1860,"c":1865},
{"d":"2023-02-05","o":1865,"h":1890,"l":1853,"c":1866},
{"d":"2023-02-12","o":1866,"h":1880,"l":1819,"c":1842},
{"d":"2023-02-19","o":1842,"h":1848,"l":1809,"c":1811},
{"d":"2023-02-26","o":1811,"h":1858,"l":1805,"c":1856},
{"d":"2023-03-05","o":1856,"h":1870,"l":1809,"c":1868},
{"d":"2023-03-12","o":1868,"h":1989,"l":1866,"c":1989},
{"d":"2023-03-19","o":1989,"h":2009,"l":1934,"c":1978},
{"d":"2023-03-26","o":1978,"h":1988,"l":1950,"c":1969},
{"d":"2023-04-02","o":1969,"h":2032,"l":1966,"c":2007},
{"d":"2023-04-09","o":2007,"h":2049,"l":1992,"c":2004},
{"d":"2023-04-16","o":2004,"h":2015,"l":1969,"c":1983},
{"d":"2023-04-23","o":1983,"h":2009,"l":1974,"c":1990},
{"d":"2023-04-30","o":1990,"h":2079,"l":1981,"c":2017},
{"d":"2023-05-07","o":2017,"h":2048,"l":2004,"c":2011},
{"d":"2023-05-14","o":2011,"h":2022,"l":1952,"c":1977},
{"d":"2023-05-21","o":1977,"h":1985,"l":1937,"c":1946},
{"d":"2023-05-28","o":1946,"h":1983,"l":1932,"c":1948},
{"d":"2023-06-04","o":1948,"h":1970,"l":1940,"c":1961},
{"d":"2023-06-11","o":1961,"h":1971,"l":1925,"c":1958},
{"d":"2023-06-18","o":1958,"h":1962,"l":1910,"c":1921},
{"d":"2023-06-25","o":1921,"h":1926,"l":1893,"c":1919},
{"d":"2023-07-02","o":1919,"h":1935,"l":1902,"c":1925},
{"d":"2023-07-09","o":1925,"h":1964,"l":1922,"c":1955},
{"d":"2023-07-16","o":1955,"h":1987,"l":1952,"c":1962},
{"d":"2023-07-23","o":1962,"h":1974,"l":1942,"c":1959},
{"d":"2023-07-30","o":1959,"h":1969,"l":1927,"c":1942},
{"d":"2023-08-06","o":1942,"h":1945,"l":1911,"c":1913},
{"d":"2023-08-13","o":1913,"h":1918,"l":1885,"c":1889},
{"d":"2023-08-20","o":1889,"h":1924,"l":1884,"c":1915},
{"d":"2023-08-27","o":1915,"h":1953,"l":1913,"c":1940},
{"d":"2023-09-03","o":1940,"h":1953,"l":1915,"c":1919},
{"d":"2023-09-10","o":1919,"h":1932,"l":1900,"c":1924},
{"d":"2023-09-17","o":1924,"h":1947,"l":1913,"c":1925},
{"d":"2023-09-24","o":1925,"h":1926,"l":1846,"c":1849},
{"d":"2023-10-01","o":1849,"h":1857,"l":1810,"c":1833},
{"d":"2023-10-08","o":1833,"h":1933,"l":1830,"c":1932},
{"d":"2023-10-15","o":1932,"h":1997,"l":1908,"c":1981},
{"d":"2023-10-22","o":1981,"h":2009,"l":1953,"c":2006},
{"d":"2023-10-29","o":2006,"h":2009,"l":1953,"c":1992},
{"d":"2023-11-05","o":1992,"h":1993,"l":1933,"c":1940},
{"d":"2023-11-12","o":1940,"h":1993,"l":1932,"c":1981},
{"d":"2023-11-19","o":1981,"h":2008,"l":1965,"c":2002},
{"d":"2023-11-26","o":2002,"h":2075,"l":1994,"c":2072},
{"d":"2023-12-03","o":2072,"h":2146,"l":1993,"c":2004},
{"d":"2023-12-10","o":2004,"h":2047,"l":1973,"c":2019},
{"d":"2023-12-17","o":2019,"h":2070,"l":2016,"c":2053},
{"d":"2023-12-24","o":2053,"h":2088,"l":2049,"c":2063},
{"d":"2023-12-31","o":2063,"h":2079,"l":2024,"c":2049},
{"d":"2024-01-07","o":2049,"h":2062,"l":2013,"c":2050},
{"d":"2024-01-14","o":2050,"h":2055,"l":2002,"c":2029},
{"d":"2024-01-21","o":2029,"h":2041,"l":2010,"c":2018},
{"d":"2024-01-28","o":2018,"h":2065,"l":2010,"c":2039},
{"d":"2024-02-04","o":2039,"h":2047,"l":2014,"c":2024},
{"d":"2024-02-11","o":2024,"h":2031,"l":1984,"c":2013},
{"d":"2024-02-18","o":2013,"h":2041,"l":2010,"c":2035},
{"d":"2024-02-25","o":2035,"h":2088,"l":2024,"c":2083},
{"d":"2024-03-03","o":2083,"h":2195,"l":2078,"c":2179},
{"d":"2024-03-10","o":2179,"h":2185,"l":2146,"c":2156},
{"d":"2024-03-17","o":2156,"h":2222,"l":2146,"c":2165},
{"d":"2024-03-24","o":2165,"h":2236,"l":2163,"c":2230},
{"d":"2024-03-31","o":2230,"h":2331,"l":2228,"c":2329},
{"d":"2024-04-07","o":2329,"h":2431,"l":2320,"c":2344},
{"d":"2024-04-14","o":2344,"h":2417,"l":2324,"c":2391},
{"d":"2024-04-21","o":2391,"h":2392,"l":2291,"c":2337},
{"d":"2024-04-28","o":2337,"h":2353,"l":2277,"c":2301},
{"d":"2024-05-05","o":2301,"h":2378,"l":2291,"c":2360},
{"d":"2024-05-12","o":2360,"h":2422,"l":2338,"c":2415},
{"d":"2024-05-19","o":2415,"h":2450,"l":2325,"c":2334},
{"d":"2024-05-26","o":2334,"h":2364,"l":2322,"c":2327},
{"d":"2024-06-02","o":2327,"h":2387,"l":2286,"c":2293},
{"d":"2024-06-09","o":2293,"h":2341,"l":2291,"c":2333},
{"d":"2024-06-16","o":2333,"h":2368,"l":2295,"c":2322},
{"d":"2024-06-23","o":2322,"h":2338,"l":2293,"c":2326},
{"d":"2024-06-30","o":2326,"h":2392,"l":2318,"c":2391},
{"d":"2024-07-07","o":2391,"h":2424,"l":2352,"c":2411},
{"d":"2024-07-14","o":2411,"h":2483,"l":2392,"c":2400},
{"d":"2024-07-21","o":2400,"h":2432,"l":2353,"c":2387},
{"d":"2024-07-28","o":2387,"h":2477,"l":2382,"c":2443},
{"d":"2024-08-04","o":2443,"h":2461,"l":2364,"c":2431},
{"d":"2024-08-11","o":2431,"h":2509,"l":2418,"c":2507},
{"d":"2024-08-18","o":2507,"h":2531,"l":2470,"c":2512},
{"d":"2024-08-25","o":2512,"h":2529,"l":2491,"c":2503},
{"d":"2024-09-01","o":2503,"h":2529,"l":2471,"c":2497},
{"d":"2024-09-08","o":2497,"h":2585,"l":2485,"c":2578},
{"d":"2024-09-15","o":2578,"h":2626,"l":2546,"c":2622},
{"d":"2024-09-22","o":2622,"h":2685,"l":2616,"c":2658},
{"d":"2024-09-29","o":2658.88,"h":2673.11,"l":2624.74,"c":2646.71}
]},
"mark":{"type":"rule","strokeWidth":1},
"encoding":{
"x":{"field":"d","type":"temporal","scale":{"type":"utc","domain":[1386914400000,1888293600000],"nice":false},
"axis":{"orient":"bottom","tickCount":40,"values":[1387670400000,1407024000000,1426377600000,1445731200000,1465084800000,1484438400000,1503792000000,1523145600000,1542499200000,1561852800000,1581206400000,1600560000000,1619913600000,1639267200000,1658620800000,1677974400000,1697328000000,1716681600000],"labelExpr":"utcFormat(datum.value, '%-d %b %Y')","labelAlign":"left","labelBaseline":"top","labelPadding":1,"labelOffset":2,"tickSize":4}},
"y":{"field":"l","type":"quantitative","scale":{"domain":[1008.3,2776.7],"nice":false,"zero":false},
"axis":{"orient":"right","tickCount":40,"values":[2763.4,2695.4,2627.4,2559.4,2493.4,2425.4,2357.4,2291.4,2223.4,2155.4,2089.4,2021.4,1953.4,1887.4,1819.4,1751.4,1683.4,1617.4,1549.4,1481.4,1415.4,1347.4,1279.4,1213.4,1145.4,1077.4,1011.4],"labelExpr":"format(datum.value, '.2f')","tickSize":3,"labelPadding":3}},
"y2":{"field":"h"},
"color":{"condition":{"test":"datum.c >= datum.o","value":"#0000cc"},"value":"#ee0000"}
}},
{"data":{"values":[{"p":2646.71}]},
"mark":{"type":"rule","color":"#778899","strokeWidth":1},
"encoding":{"y":{"field":"p","type":"quantitative"}}},
{"data":{"values":[
{"g":"upper","d":"2014-01-11","p":1369},{"g":"upper","d":"2026-01-30","p":2679},
{"g":"lower","d":"2017-04-22","p":1020},{"g":"lower","d":"2029-08-28","p":2329}]},
"mark":{"type":"line","color":"#000000","strokeWidth":2},
"encoding":{"x":{"field":"d","type":"temporal"},"y":{"field":"p","type":"quantitative"},"detail":{"field":"g"}}},
{"data":{"values":[
{"g":"hh1","d":"2017-01-24","p":2229},{"g":"hh1","d":"2014-03-27","p":1405},
{"g":"hh2","d":"2018-08-15","p":2238},{"g":"hh2","d":"2020-07-15","p":2093},
{"g":"hh3","d":"2018-09-26","p":2320},{"g":"hh3","d":"2024-07-04","p":2548},
{"g":"bo","d":"2024-12-05","p":2528},{"g":"bo","d":"2025-08-30","p":2528},
{"g":"hl1","d":"2018-11-02","p":1179},{"g":"hl1","d":"2021-04-18","p":1193},
{"g":"hl2","d":"2021-12-21","p":1229},{"g":"hl2","d":"2022-10-27","p":1604}]},
"mark":{"type":"line","color":"#808080","strokeWidth":3},
"encoding":{"x":{"field":"d","type":"temporal"},"y":{"field":"p","type":"quantitative"},"detail":{"field":"g"}}},
{"data":{"values":[{"d":"2024-09-18","p":2537.5}]},
"mark":{"type":"point","shape":"circle","filled":false,"size":1024,"color":"#808080","strokeWidth":3,"opacity":1},
"encoding":{"x":{"field":"d","type":"temporal"},"y":{"field":"p","type":"quantitative"}}},
{"data":{"values":[
{"t":"higher highs","d":"2016-11-25","p":2252.5},
{"t":"higher lows","d":"2021-05-11","p":1166.4},
{"t":"Breakout","d":"2025-10-06","p":2499.3}]},
"mark":{"type":"text","align":"left","baseline":"alphabetic","font":"Lato","fontWeight":"bold","fontSize":37.5,"color":"#000000"},
"encoding":{"x":{"field":"d","type":"temporal"},"y":{"field":"p","type":"quantitative"},"text":{"field":"t"}}},
{"data":{"values":[{"t":"XAUUSD: Weekly Timeframe","d":"2014-01-04","p":2675}]},
"mark":{"type":"text","align":"left","baseline":"alphabetic","font":"Lato","fontWeight":"bold","fontSize":36.8,"color":"#808080"},
"encoding":{"x":{"field":"d","type":"temporal"},"y":{"field":"p","type":"quantitative"},"text":{"field":"t"}}},
{"data":{"values":[{"t":"forexgdp.com","d":"2015-04-10","p":2548.3}]},
"mark":{"type":"text","align":"left","baseline":"alphabetic","font":"Lato","fontWeight":"bold","fontSize":35,"color":"#808080"},
"encoding":{"x":{"field":"d","type":"temporal"},"y":{"field":"p","type":"quantitative"},"text":{"field":"t"}}},
{"data":{"values":[{"t":"▼\u00a0\u00a0\u00a0XAUUSD,Weekly\u00a0\u00a02658.88 2673.11 2624.74 2646.71","d":"2013-12-24","p":2752.8}]},
"mark":{"type":"text","align":"left","baseline":"middle","font":"Liberation Sans","fontSize":9.5,"color":"#000000"},
"encoding":{"x":{"field":"d","type":"temporal"},"y":{"field":"p","type":"quantitative"},"text":{"field":"t"}}},
{"data":{"values":[{"p":2646.71}]},
"mark":{"type":"rect","color":"#000000"},
"encoding":{"x":{"datum":1888596000000,"type":"temporal"},"x2":{"datum":1901599200000},"y":{"datum":2657.4,"type":"quantitative"},"y2":{"datum":2636.0}}},
{"data":{"values":[{"p":2646.71}]},
"mark":{"type":"text","align":"center","baseline":"middle","font":"Liberation Sans","fontSize":9.5,"color":"#ffffff"},
"encoding":{"x":{"datum":1895097600000,"type":"temporal"},"y":{"field":"p","type":"quantitative"},"text":{"field":"p","type":"quantitative","format":".2f"}}}
]
}
